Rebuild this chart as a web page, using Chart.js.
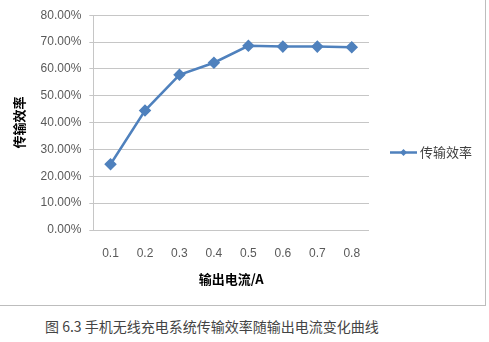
<!DOCTYPE html>
<html>
<head>
<meta charset="utf-8">
<script src="https://cdn.jsdelivr.net/npm/chart.js@4/dist/chart.umd.min.js"></script>
<style>
  html, body { margin: 0; padding: 0; background: #fff; }
  #wrap { position: relative; width: 489px; height: 342px; overflow: hidden; }
  #frame { position: absolute; left: 0; top: 0; width: 485px; height: 305px;
           border-right: 1px solid #bdbdbd; border-bottom: 1px solid #bdbdbd; }
  #cv { position: absolute; left: 0; top: 0; }
  #cap { position: absolute; left: 45px; top: 316px; font-family: "Noto Sans CJK SC", sans-serif;
         font-size: 14px; color: #444; white-space: pre; }
</style>
</head>
<body>
<div id="wrap">
  <div id="frame"></div>
  <canvas id="cv" width="485" height="305"></canvas>
  <div id="cap">图 6.3 手机无线充电系统传输效率随输出电流变化曲线</div>
</div>
<script>
const categories = ['0.1', '0.2', '0.3', '0.4', '0.5', '0.6', '0.7', '0.8'];
const efficiency = [0.245, 0.445, 0.578, 0.623, 0.686, 0.683, 0.683, 0.681];
const seriesName = '传输效率';
const xTitle = '输出电流/A';
const yTitle = '传输效率';

const lineColor = '#4f81bd';

const legendPlugin = {
  id: 'customLegend',
  afterDraw(chart) {
    const ctx = chart.ctx;
    const ca = chart.chartArea;
    const y = (chart.height) / 2;
    const x0 = ca.right + 21;
    ctx.save();
    ctx.strokeStyle = lineColor;
    ctx.lineWidth = 2.5;
    ctx.beginPath();
    ctx.moveTo(x0, y);
    ctx.lineTo(x0 + 27, y);
    ctx.stroke();
    ctx.fillStyle = lineColor;
    const cx = x0 + 13.5, r = 3.5;
    ctx.beginPath();
    ctx.moveTo(cx, y - r); ctx.lineTo(cx + r, y); ctx.lineTo(cx, y + r); ctx.lineTo(cx - r, y);
    ctx.closePath(); ctx.fill();
    ctx.fillStyle = '#404040';
    ctx.font = '13px "Noto Sans CJK SC", sans-serif';
    ctx.textBaseline = 'middle';
    ctx.fillText(seriesName, x0 + 30, y);
    ctx.restore();
  }
};

new Chart(document.getElementById('cv'), {
  type: 'line',
  data: {
    labels: categories,
    datasets: [{
      label: seriesName,
      data: efficiency,
      borderColor: lineColor,
      backgroundColor: lineColor,
      borderWidth: 2.5,
      pointStyle: 'rectRot',
      pointRadius: 4.5,
      pointHoverRadius: 4.5,
      tension: 0
    }]
  },
  options: {
    responsive: false,
    animation: false,
    layout: { padding: { top: 2, right: 116, bottom: 18, left: 11 } },
    plugins: { legend: { display: false }, tooltip: { enabled: false } },
    scales: {
      x: {
        offset: true,
        grid: { display: false, drawTicks: false },
        border: { display: false },
        ticks: { padding: 16, color: '#595959', font: { family: 'Liberation Sans', size: 12 } },
        title: { display: true, text: xTitle, color: '#000', padding: { top: -5, bottom: 0 },
                 font: { family: '"Noto Sans CJK SC", sans-serif', size: 13, weight: 'bold' } }
      },
      y: {
        min: 0, max: 0.8,
        grid: { color: '#c6c6c6', lineWidth: 1, tickLength: 4 },
        border: { display: true, color: '#c6c6c6' },
        ticks: { stepSize: 0.1, padding: 8, color: '#595959',
                 font: { family: 'Liberation Sans', size: 12 },
                 callback: v => (v * 100).toFixed(2) + '%' },
        title: { display: true, text: yTitle, color: '#000', padding: { top: 0, bottom: 6 },
                 font: { family: '"Noto Sans CJK SC", sans-serif', size: 13, weight: 'bold' } }
      }
    }
  },
  plugins: [legendPlugin]
});
</script>
</body>
</html>
